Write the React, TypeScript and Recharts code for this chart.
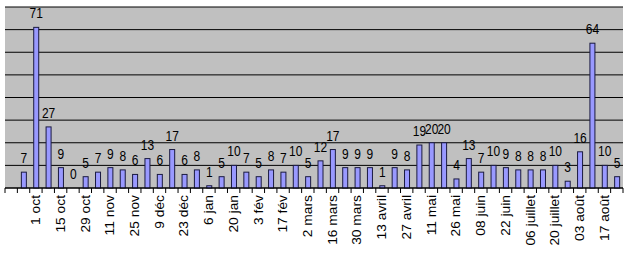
import { BarChart, Bar, XAxis, YAxis, CartesianGrid } from "recharts"

// Week labels (only every other one is printed)
const categories = [
  "", "", "1 oct", "", "15 oct", "", "29 oct", "", "11 nov", "", "25 nov", "",
  "9 déc", "", "23 déc", "", "6 jan", "", "20 jan", "", "3 fév", "", "17 fév", "",
  "2 mars", "", "16 mars", "", "30 mars", "", "13 avril", "", "27 avril", "",
  "11 mai", "", "26 mai", "", "08 juin", "", "22 juin", "", "06 juillet", "",
  "20 juillet", "", "03 août", "", "17 août", "",
]

const counts = [
  null, 7, 71, 27, 9, 0, 5, 7, 9, 8, 6, 13, 6, 17, 6, 8, 1, 5, 10, 7, 5, 8, 7, 10, 5,
  12, 17, 9, 9, 9, 1, 9, 8, 19, 20, 20, 4, 13, 7, 10, 9, 8, 8, 8, 10, 3, 16, 64, 10, 5,
]

const yTicks = [0, 10, 20, 30, 40, 50, 60, 70]

const data = categories.map((name, i) => ({ name, value: counts[i] }))

const WIDTH = 630
const HEIGHT = 254
const MARGIN = { top: 7, right: 7, left: 5, bottom: 0 }
const BAND = (WIDTH - MARGIN.left - MARGIN.right) / categories.length
const FONT = "'Liberation Sans', Arial, sans-serif"

function DateTick(props: any) {
  const { x, y, payload, index } = props
  const left = x - BAND / 2
  return (
    <g>
      <line x1={left} x2={left} y1={y} y2={y + 5} stroke="#000" />
      {index === categories.length - 1 && (
        <line x1={x + BAND / 2} x2={x + BAND / 2} y1={y} y2={y + 5} stroke="#000" />
      )}
      {payload.value && (
        <text
          transform={`translate(${x},${y + 7}) scale(1,1.15) rotate(-90)`}
          textAnchor="end"
          dy="0.35em"
          fontSize={12}
          fontFamily={FONT}
          fill="#000"
        >
          {payload.value}
        </text>
      )}
    </g>
  )
}

// bar + its value label drawn together so a zero bar still gets "0"
function BarWithLabel(props: any) {
  const { x, y, width, height, value } = props
  const v = Array.isArray(value) ? value[1] : value
  if (v === null || v === undefined) return null
  return (
    <g>
      {height > 0 && (
        <rect x={x} y={y} width={width} height={height} fill="#9999ff" stroke="#1a1a40" strokeWidth={1} />
      )}
      <text
        transform={`translate(${x + width / 2},${y - 9}) scale(1,1.15)`}
        textAnchor="middle"
        fontSize={12}
        fontFamily={FONT}
        fill="#000"
      >
        {props.payload?.value ?? v}
      </text>
    </g>
  )
}

export default function App() {
  return (
    <div style={{ position: "absolute", left: 0, top: 0, width: WIDTH, height: HEIGHT, background: "#fff" }}>
      <BarChart width={WIDTH} height={HEIGHT} data={data} margin={MARGIN}>
        <CartesianGrid vertical={false} stroke="#000" fill="#c0c0c0" fillOpacity={1} />
        <XAxis
          dataKey="name"
          interval={0}
          height={66}
          tickLine={false}
          tickSize={0}
          tickMargin={0}
          axisLine={{ stroke: "#000" }}
          tick={<DateTick />}
        />
        <YAxis hide domain={[0, 80]} ticks={yTicks} interval={0} />
        <Bar dataKey="value" barSize={5} shape={<BarWithLabel />} isAnimationActive={false} />
      </BarChart>
    </div>
  )
}
